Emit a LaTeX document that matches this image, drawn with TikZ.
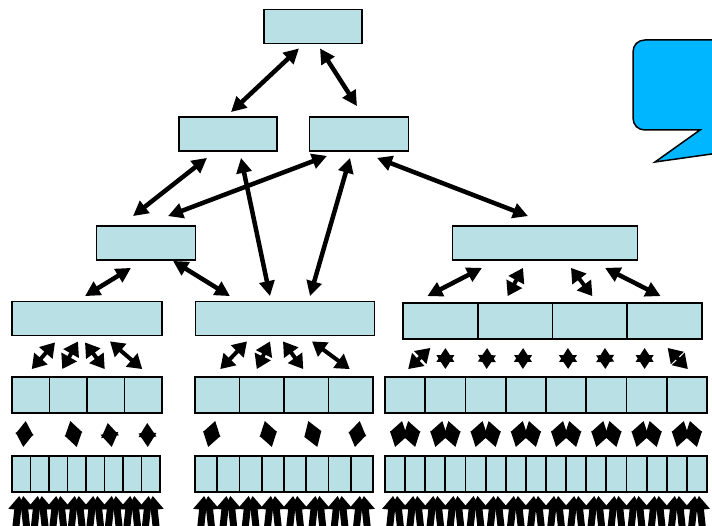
\documentclass[tikz,border=0pt]{standalone}
\usepackage{tikz}
\usetikzlibrary{arrows.meta,calc}

\definecolor{cellblue}{RGB}{185,224,228}
\definecolor{calloutblue}{RGB}{0,183,255}

\tikzset{
  box/.style={draw, fill=cellblue, line width=1.8pt, inner sep=0pt, minimum height=34pt},
  cell/.style={box, minimum height=36pt},
  link/.style={line width=4.5pt, {Triangle[length=15pt,width=15pt]}-{Triangle[length=15pt,width=15pt]}},
  stub/.style={line width=4pt, {Triangle[length=14pt,width=17pt]}-{Triangle[length=14pt,width=17pt]}},
  feed/.style={line width=7pt, -{Triangle[length=14pt,width=18pt]}}
}

\begin{document}
\begin{tikzpicture}[x=1pt,y=-1pt]

  \clip[use as bounding box] (0,0) rectangle (712,526);

  \node[box, minimum width=98pt] (a0) at (313,26.5) {};

  \node[box, minimum width=98pt] (a1) at (228,134) {};
  \node[box, minimum width=99pt] (b1) at (359,134) {};

  \node[box, minimum width=99pt] (a2) at (146,243) {};
  \node[box, minimum width=185pt] (b2) at (545,243) {};

  \node[box, minimum width=150pt] (a3) at (87,318.5) {};
  \node[box, minimum width=179pt] (b3) at (285,318.5) {};
  \foreach \i in {1,...,4}
    \node[cell, minimum width=74.75pt] (c3-\i) at ({403+74.75*(\i-0.5)},321) {};

  \foreach \i in {1,...,4} {
    \node[cell, minimum width=37.5pt] (a4-\i) at ({12+37.5*(\i-0.5)},395) {};
    \node[cell, minimum width=44.5pt] (b4-\i) at ({195+44.5*(\i-0.5)},395) {};
  }
  \foreach \i in {1,...,8}
    \node[cell, minimum width=40.25pt] (c4-\i) at ({385+40.25*(\i-0.5)},395) {};

  \foreach \i in {1,...,8} {
    \node[cell, minimum width=18.5pt] (a5-\i) at ({12+18.5*(\i-0.5)},474) {};
    \node[cell, minimum width=22.25pt] (b5-\i) at ({195+22.25*(\i-0.5)},474) {};
  }
  \foreach \i in {1,...,16}
    \node[cell, minimum width=20.125pt] (c5-\i) at ({385+20.125*(\i-0.5)},474) {};

  \draw[fill=calloutblue, line width=1.5pt] (740,40) -- (645,40)
    .. controls (638,40) and (633,45) .. (633,52) -- (633,118)
    .. controls (633,125) and (638,130) .. (645,130)
    -- (700,130) -- (655,162) -- (740,150) -- cycle;

  \draw[link] ($(a0.south)+(-14,4)$) -- ($(a1.north)+(3,-4)$);
  \draw[link] ($(a0.south)+(7,4)$) -- ($(b1.north)+(-2,-10)$);

  \draw[link] ($(a1.south)+(-21,6)$) -- ($(a2.north)+(-13,-9)$);
  \draw[link] ($(a1.south)+(13,6)$) -- ($(b3.north)+(-15,-4.5)$);
  \draw[link] ($(b1.south)+(-32,4)$) -- ($(a2.north)+(22,-9)$);
  \draw[link] ($(b1.south)+(-9,6)$) -- ($(b3.north)+(25,-4.5)$);
  \draw[link] ($(b1.south)+(18,6)$) -- ($(b2.north)+(-17,-9)$);

  \draw[link] ($(a2.south)+(-15,7)$) -- ($(a3.north)+(-2,-4.5)$);
  \draw[link] ($(a2.south)+(27,0)$) -- ($(b3.north)+(-55,-4.5)$);
  \draw[link] ($(b2.south)+(-63,7)$) -- ($(c3-1.north)+(-13,-6)$);
  \draw[stub] ($(b2.south)+(-22,7)$) -- ($(c3-2.north)+(-7.5,-6)$);
  \draw[stub] ($(b2.south)+(26,7)$) -- ($(c3-3.north)+(2.5,-6)$);
  \draw[link] ($(b2.south)+(60,7)$) -- ($(c3-4.north)+(-4,-6)$);

  \draw[stub] ($(a3.south)+(-32,6)$) -- ($(a4-1.north)+(1,-7)$);
  \draw[stub] ($(a3.south)+(-9,5)$) -- ($(a4-2.north)+(-6,-7)$);
  \draw[stub] ($(a3.south)+(-2,6)$) -- ($(a4-3.north)+(-1,-7)$);
  \draw[stub] ($(a3.south)+(23,5)$) -- ($(a4-4.north)+(-1,-7)$);
  \draw[stub] ($(b3.south)+(-38,5)$) -- ($(b4-1.north)+(3,-7)$);
  \draw[stub] ($(b3.south)+(-15,5)$) -- ($(b4-2.north)+(-5,-7)$);
  \draw[stub] ($(b3.south)+(-2,5)$) -- ($(b4-3.north)+(-3,-7)$);
  \draw[stub] ($(b3.south)+(27,5)$) -- ($(b4-4.north)+(-1,-7)$);

  \draw[stub] ($(c3-1.south)+(-10,8)$) -- ($(c4-1.north)+(3,-7)$);
  \draw[stub] ($(c3-1.south)+(5,8)$) -- ($(c4-2.north)+(0,-7)$);
  \draw[stub] ($(c3-2.south)+(-28,8)$) -- ($(c4-3.north)+(1,-7)$);
  \draw[stub] ($(c3-2.south)+(8,8)$) -- ($(c4-4.north)+(-3,-7)$);
  \draw[stub] ($(c3-3.south)+(-22,8)$) -- ($(c4-5.north)+(2,-7)$);
  \draw[stub] ($(c3-3.south)+(15,8)$) -- ($(c4-6.north)+(-1,-7)$);
  \draw[stub] ($(c3-4.south)+(-20,8)$) -- ($(c4-7.north)+(-2,-7)$);
  \draw[stub] ($(c3-4.south)+(3,8)$) -- ($(c4-8.north)+(1,-7)$);

  \draw[stub] ($(a4-1.south)+(-5,7)$) -- ($(a5-1.north)+(2,-8)$);
  \draw[stub] ($(a4-2.south)+(2,7)$) -- ($(a5-4.north)+(0,-8)$);
  \draw[stub] ($(a4-3.south)+(2,9)$) -- ($(a5-6.north)+(-2,-8)$);
  \draw[stub] ($(a4-4.south)+(4,9)$) -- ($(a5-8.north)+(-3,-8)$);
  \draw[stub] ($(b4-1.south)+(-2,7)$) -- ($(b5-1.north)+(2,-8)$);
  \draw[stub] ($(b4-2.south)+(3,7)$) -- ($(b5-4.north)+(-1,-8)$);
  \draw[stub] ($(b4-3.south)+(2,7)$) -- ($(b5-6.north)+(0,-8)$);
  \draw[stub] ($(b4-4.south)+(9,7)$) -- ($(b5-8.north)+(-7,-8)$);

  \foreach \i in {1,...,8} {
    \pgfmathtruncatemacro\j{2*\i-1}
    \pgfmathtruncatemacro\k{2*\i}
    \draw[stub] ($(c4-\i.south)+(-3,7)$) -- ($(c5-\j.north)+(0,-8)$);
    \draw[stub] ($(c4-\i.south)+(3,7)$) -- ($(c5-\k.north)+(0,-8)$);
  }

  \foreach \i in {1,...,8} {
    \draw[feed] ($(a5-\i.south)+(-6,40)$) -- ($(a5-\i.south)+(-2,3)$);
    \draw[feed] ($(a5-\i.south)+(6,40)$) -- ($(a5-\i.south)+(2,3)$);
    \draw[feed] ($(b5-\i.south)+(-6,40)$) -- ($(b5-\i.south)+(-2,3)$);
    \draw[feed] ($(b5-\i.south)+(6,40)$) -- ($(b5-\i.south)+(2,3)$);
  }
  \foreach \i in {1,...,16} {
    \draw[feed] ($(c5-\i.south)+(-6,40)$) -- ($(c5-\i.south)+(-2,3)$);
    \draw[feed] ($(c5-\i.south)+(6,40)$) -- ($(c5-\i.south)+(2,3)$);
  }

\end{tikzpicture}
\end{document}
